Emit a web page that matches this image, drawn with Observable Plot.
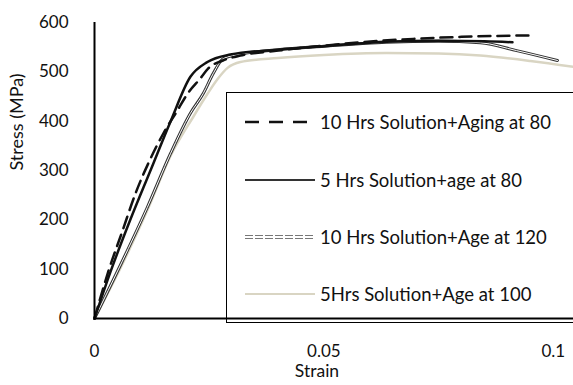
<!DOCTYPE html>
<html><head><meta charset="utf-8">
<script src="https://cdn.jsdelivr.net/npm/d3@7"></script>
<script src="https://cdn.jsdelivr.net/npm/@observablehq/plot@0.6"></script>
<style>
body{margin:0;background:#fff;font-family:Lato,sans-serif;}
#wrap{position:relative;width:573px;height:385px;overflow:hidden;}
#legend{position:absolute;left:226px;top:92px;width:420px;height:231px;border:1.5px solid #000;box-sizing:border-box;}
.row{position:absolute;left:18px;height:22px;display:flex;align-items:center;font-size:18.5px;color:#111;white-space:nowrap;}
.row svg{margin-right:5px;}
</style></head>
<body><div id="wrap"></div>
<script>
const seriesNames = ["10 Hrs Solution+Aging at 80","5 Hrs Solution+age at 80","10 Hrs Solution+Age at 120","5Hrs Solution+Age at 100"];
const strain1 = [0,0.003,0.006,0.009,0.012,0.015,0.0181,0.0203,0.0231,0.0248,0.028,0.0318,0.04,0.05,0.0623,0.07,0.08,0.0956];
const stress1 = [0,95,175,255,320,375,422,456,487,507,523,533,543,553,563,567,571,574];
const strain2 = [0,0.0035,0.0078,0.0122,0.0166,0.0209,0.0246,0.0296,0.04,0.0514,0.0636,0.075,0.085,0.0911];
const stress2 = [0,95,200,300,400,490,520,535,545,553,561,563,562,560];
const strain3 = [0,0.006,0.0115,0.0166,0.0209,0.0237,0.0259,0.0281,0.032,0.04,0.05,0.0636,0.075,0.0841,0.092,0.1009];
const stress3 = [0,115,225,335,416,456,497,527,536,545,552,560,562,559,543,523];
const strain4 = [0,0.0057,0.0115,0.0166,0.0216,0.0246,0.0268,0.029,0.0318,0.04,0.05,0.0636,0.075,0.0841,0.095,0.1044];
const stress4 = [0,103,219,330,410,455,485,508,520,528,534,538,537,533,522,510];
const xTicks = [0,0.05,0.1];
const yTicks = [0,100,200,300,400,500,600];

const mk = (xs, ys) => xs.map((x,i)=>({x, y: ys[i]}));
const d1 = mk(strain1, stress1), d2 = mk(strain2, stress2), d3s = mk(strain3, stress3), d4 = mk(strain4, stress4);

const chart = Plot.plot({
  width: 573, height: 385,
  marginLeft: 94, marginRight: 0, marginTop: 22, marginBottom: 67,
  style: {fontFamily: "Lato, sans-serif", fontSize: "17px", color: "#111", background: "#fff"},
  x: {domain: [0, 0.1044]},
  y: {domain: [0, 600]},
  marks: [
    Plot.line(d4, {x:"x", y:"y", stroke:"#d9d5c3", strokeWidth:2.5, curve:"monotone-x"}),
    Plot.line(d3s, {x:"x", y:"y", stroke:"#333", strokeWidth:3, curve:"monotone-x"}),
    Plot.line(d3s, {x:"x", y:"y", stroke:"#fff", strokeWidth:1, curve:"monotone-x"}),
    Plot.line(d2, {x:"x", y:"y", stroke:"#111", strokeWidth:2.5, curve:"monotone-x"}),
    Plot.line(d1, {x:"x", y:"y", stroke:"#111", strokeWidth:2.5, strokeDasharray:"12,7", curve:"monotone-x"}),
    Plot.ruleX([0], {stroke:"#000", strokeWidth:2}),
    Plot.ruleY([0], {stroke:"#000", strokeWidth:2}),
    Plot.axisX({ticks: xTicks, tickSize: 0, tickPadding: 26, tickFormat: d => d === 0 ? "0" : String(d), label: null, fontSize: 17}),
    Plot.axisY({ticks: yTicks, tickSize: 0, tickPadding: 26, label: null, fontSize: 17}),
    Plot.text(["Stress (MPa)"], {frameAnchor:"left", rotate:-90, dx:-77, fontSize:18, fill:"#111"}),
    Plot.text(["Strain"], {frameAnchor:"bottom", dx:-17, dy:58, fontSize:17.5, fill:"#111"})
  ]
});
const wrap = document.getElementById("wrap");
wrap.appendChild(chart);

const legend = document.createElement("div");
legend.id = "legend";
const centers = [29, 87, 144, 201];
const samples = [
  '<line x1="0" y1="5" x2="70" y2="5" stroke="#111" stroke-width="2.5" stroke-dasharray="14,10"/>',
  '<line x1="0" y1="5" x2="70" y2="5" stroke="#333" stroke-width="2"/>',
  '<line x1="0" y1="3.5" x2="70" y2="3.5" stroke="#777" stroke-width="1" stroke-dasharray="8,2"/><line x1="0" y1="6.5" x2="70" y2="6.5" stroke="#777" stroke-width="1" stroke-dasharray="8,2"/>',
  '<line x1="0" y1="5" x2="70" y2="5" stroke="#d9d5c3" stroke-width="2"/>'
];
seriesNames.forEach((name, i) => {
  const row = document.createElement("div");
  row.className = "row";
  row.style.top = (centers[i] - 11) + "px";
  row.innerHTML = '<svg width="70" height="10">' + samples[i] + '</svg><span>' + name + '</span>';
  legend.appendChild(row);
});
wrap.appendChild(legend);
</script>
</body></html>
